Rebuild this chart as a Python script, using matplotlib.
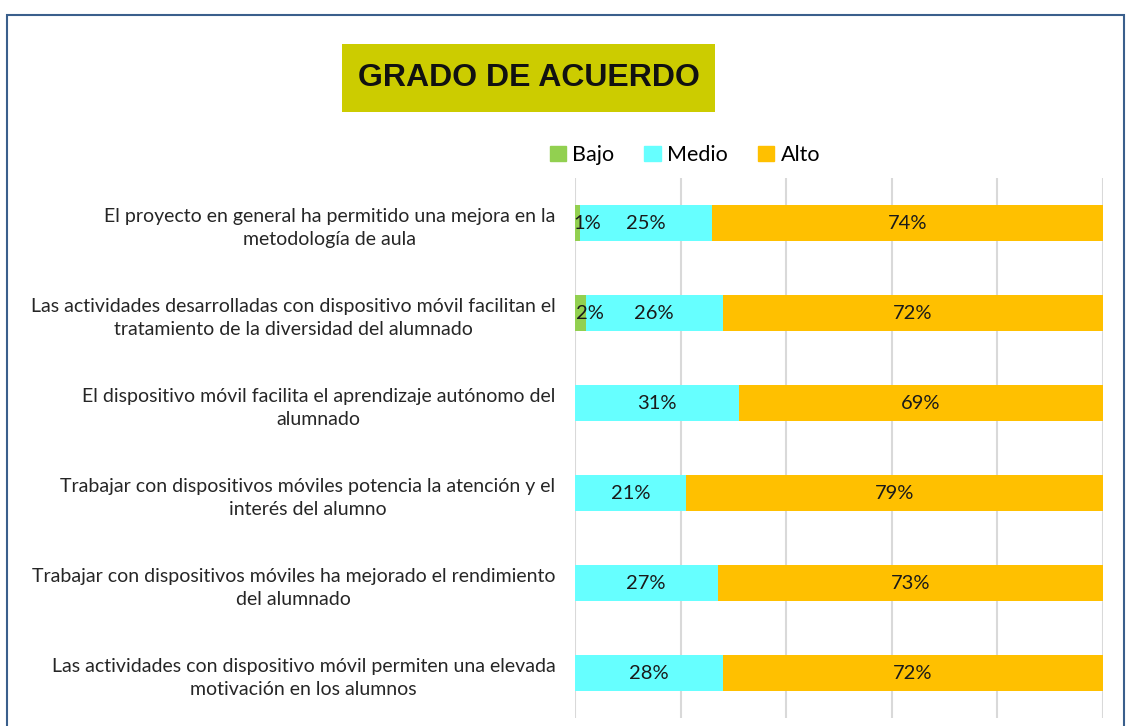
import matplotlib
matplotlib.use("Agg")
import matplotlib.pyplot as plt
from matplotlib.patches import Rectangle, Patch

categories = [
    "El proyecto en general ha permitido una mejora en la\nmetodología de aula",
    "Las actividades desarrolladas con dispositivo móvil facilitan el\ntratamiento de la diversidad del alumnado",
    "El dispositivo móvil facilita el aprendizaje autónomo del\nalumnado",
    "Trabajar con dispositivos móviles potencia la atención y el\ninterés del alumno",
    "Trabajar con dispositivos móviles ha mejorado el rendimiento\ndel alumnado",
    "Las actividades con dispositivo móvil permiten una elevada\nmotivación en los alumnos",
]
bajo = [1, 2, 0, 0, 0, 0]
medio = [25, 26, 31, 21, 27, 28]
alto = [74, 72, 69, 79, 73, 72]

series = ["Bajo", "Medio", "Alto"]
colors = ["#92D050", "#66FFFF", "#FFC000"]

plt.rcParams['font.family'] = ['Lato', 'DejaVu Sans']

fig = plt.figure(figsize=(11.3, 7.26), dpi=100)
ax = fig.add_axes([0.5088, 0.011, 0.4673, 0.7438])

y = list(range(len(categories)))
left = [0] * len(categories)
for name, vals, c in zip(series, [bajo, medio, alto], colors):
    bars = ax.barh(y, vals, left=left, height=0.4, color=c, label=name, zorder=2)
    for b, v, l in zip(bars, vals, left):
        if v == 0:
            continue
        xoff = 7 if name == "Bajo" else 0
        ax.annotate(f"{v}%", (l + v / 2, b.get_y() + b.get_height() / 2),
                    xytext=(xoff, 0), textcoords="offset points",
                    ha="center", va="center", fontsize=14.5, color="#1a1a1a", zorder=3)
    left = [a + b for a, b in zip(left, vals)]

ax.set_xlim(0, 100)
ax.set_ylim(len(categories) - 0.5, -0.5)
ax.set_xticks(range(0, 101, 20))
ax.xaxis.grid(True, color="#D9D9D9", linewidth=1.5, zorder=0)
ax.tick_params(axis="x", length=0, labelbottom=False)
ax.tick_params(axis="y", length=0, pad=14)
ax.set_yticks(y)
ax.set_yticklabels(categories, fontsize=14, color="#262626", ha="right",
                   multialignment="center", linespacing=1.45)
for s in ax.spines.values():
    s.set_visible(False)

# title box
fig.patches.append(Rectangle((0.3027, 0.8457), 0.3301, 0.0937, transform=fig.transFigure,
                             facecolor="#CCCC00", edgecolor="none"))
fig.text(0.4677, 0.8926, "GRADO DE ACUERDO", ha="center", va="center",
         fontsize=23, fontweight="bold", family="Liberation Sans", color="#111111")

# outer border
fig.patches.append(Rectangle((7 / 1130, -0.05), 1117 / 1130, 1.05 - 15 / 726, transform=fig.transFigure,
                             facecolor="none", edgecolor="#3A5F8C", linewidth=1.5))

handles = [Patch(color=c, label=n) for n, c in zip(series, colors)]
fig.legend(handles=handles, loc="center", bbox_to_anchor=(0.606, 0.7865), ncol=3,
           frameon=False, fontsize=15.5, handlelength=0.75, handleheight=0.75,
           handletextpad=0.3, columnspacing=1.4)

fig.savefig("out.png", dpi=100)
